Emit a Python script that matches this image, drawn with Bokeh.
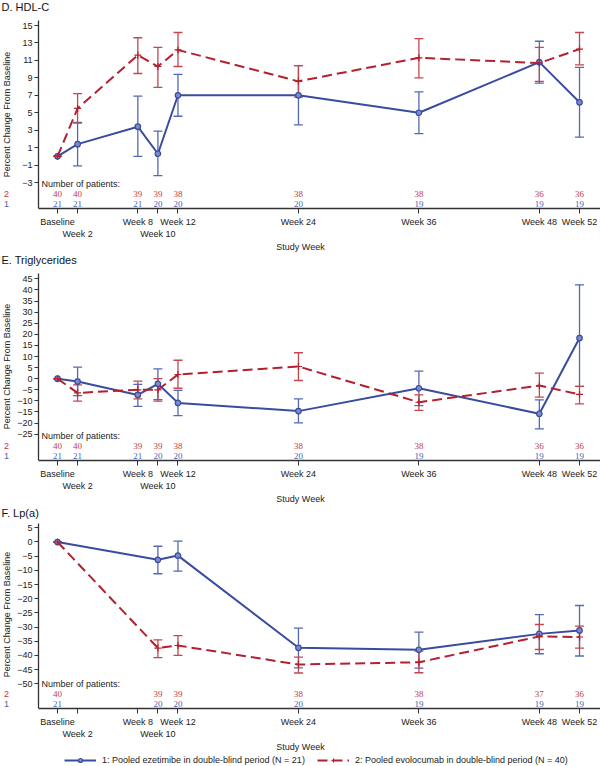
import math
from bokeh.plotting import figure
from bokeh.models import (Range1d, FixedTicker, Label, LabelSet, ColumnDataSource,
                          Whisker, TeeHead, Legend, LegendItem)
from bokeh.layouts import column
from bokeh.embed import file_html
from bokeh.resources import INLINE

# ---------------- data ----------------
tick_weeks = [0, 2, 8, 10, 12, 24, 36, 48, 52]
tick_labels = ["Baseline", "\nWeek 2", "Week 8", "\nWeek 10", "Week 12",
               "Week 24", "Week 36", "Week 48", "Week 52"]

# D. HDL-C
hdl_weeks = [0, 2, 8, 10, 12, 24, 36, 48, 52]
hdl_eze = [0, 1.4, 3.4, 0.3, 7.0, 7.0, 5.0, 10.8, 6.2]
hdl_eze_lo = [0, -1.1, 0.0, -2.2, 4.6, 3.6, 2.6, 8.4, 2.2]
hdl_eze_hi = [0, 3.9, 6.9, 2.9, 9.4, 10.4, 7.4, 13.2, 10.2]
hdl_evo = [0, 5.5, 11.6, 10.3, 12.2, 8.6, 11.3, 10.7, 12.3]
hdl_evo_lo = [0, 3.8, 9.5, 7.9, 10.3, 6.8, 9.0, 8.6, 10.5]
hdl_evo_hi = [0, 7.2, 13.6, 12.5, 14.2, 10.4, 13.5, 12.5, 14.2]
hdl_n_eze = [21, 21, 21, 20, 20, 20, 19, 19, 19]
hdl_n_evo = [40, 40, 39, 39, 38, 38, 38, 36, 36]
hdl_yticks = [-3, -1, 1, 3, 5, 7, 9, 11, 13, 15]

# E. Triglycerides
tg_weeks = [0, 2, 8, 10, 12, 24, 36, 48, 52]
tg_eze = [0, -1.3, -7.3, -2.3, -10.9, -14.6, -4.3, -15.8, 18.3]
tg_eze_lo = [0, -7.6, -12.5, -9.4, -16.6, -19.9, -12.1, -22.6, -3.5]
tg_eze_hi = [0, 5.2, -2.6, 4.4, -5.3, -9.1, 3.4, -9.5, 42.3]
tg_evo = [0, -6.4, -5.0, -5.0, 1.9, 5.5, -10.6, -3.1, -7.1]
tg_evo_lo = [0, -10.1, -9.1, -10.1, -4.3, -0.8, -14.3, -8.3, -11.3]
tg_evo_hi = [0, -2.8, -1.1, 0.0, 8.3, 11.7, -7.3, 2.5, -3.5]
tg_n_eze = [21, 21, 21, 20, 20, 20, 19, 19, 19]
tg_n_evo = [40, 40, 39, 39, 38, 38, 38, 36, 36]
tg_yticks = [-25, -20, -15, -10, -5, 0, 5, 10, 15, 20, 25, 30, 35, 40, 45]

# F. Lp(a)
lpa_weeks = [0, 10, 12, 24, 36, 48, 52]
lpa_eze = [0, -6.3, -4.8, -37.3, -38.0, -32.4, -31.2]
lpa_eze_lo = [0, -11.2, -10.3, -44.4, -44.5, -39.4, -40.2]
lpa_eze_hi = [0, -1.5, 0.3, -30.4, -31.8, -25.6, -22.4]
lpa_evo = [0, -37.4, -36.5, -43.2, -42.4, -33.3, -33.5]
lpa_evo_lo = [0, -40.8, -40.0, -46.2, -46.1, -37.9, -37.4]
lpa_evo_hi = [0, -34.5, -33.0, -40.6, -38.5, -29.1, -29.7]
lpa_n_eze = [21, 20, 20, 20, 19, 19, 19]
lpa_n_evo = [40, 39, 39, 38, 38, 37, 36]
lpa_yticks = [-50, -45, -40, -35, -30, -25, -20, -15, -10, -5, 0, 5]

eze_label = "1: Pooled ezetimibe in double-blind period (N = 21)"
evo_label = "2: Pooled evolocumab in double-blind period (N = 40)"

# ---------------- style ----------------
FONT = "Liberation Sans"
BLUE = "#3a4c9f"
BLUE_BAR = "#5568b4"
BLUE_TXT = "#4a5fb0"
BLUE_FILL = "#7d8cc8"
RED = "#b3202e"
RED_BAR = "#c44650"
RED_TXT = "#c23a44"
INK = "#222222"
W = 600
X0, X1 = -5.68, 54.09      # visible week range across the full width
YAXIS_AT = -1.89           # week position where the y axis is drawn


def add_series(p, src_e, src_v, with_bars=True):
    le = p.line("x", "y", source=src_e, line_color=BLUE, line_width=2)
    me = p.scatter("x", "y", source=src_e, marker="circle", size=5.5,
                   line_color=BLUE, fill_color=BLUE_FILL, line_width=1.2)
    lv = p.line("x", "y", source=src_v, line_color=RED, line_width=2, line_dash="10 5")
    mv = p.scatter("x", "y", source=src_v, marker="cross", size=7,
                   line_color=RED, line_width=1.2)
    return le, me, lv, mv


def make_panel(title, weeks, eze, eze_lo, eze_hi, evo, evo_lo, evo_hi,
               n_eze, n_evo, yticks, y0, y1, ytop, frame_h, title_y):
    p = figure(frame_width=W, frame_height=frame_h, output_backend="svg",
               toolbar_location=None,
               x_range=Range1d(X0, X1), y_range=Range1d(y0, y1),
               min_border_left=0, min_border_right=0,
               min_border_top=0, min_border_bottom=46)
    p.outline_line_color = None
    p.xgrid.grid_line_color = None
    p.ygrid.grid_line_color = None

    # axes
    p.xaxis.ticker = FixedTicker(ticks=tick_weeks)
    p.xaxis.major_label_overrides = {w: t for w, t in zip(tick_weeks, tick_labels)}
    p.xaxis.bounds = (YAXIS_AT, X1)
    p.xaxis.major_tick_out = 5
    p.xaxis.major_label_standoff = 3
    p.xaxis.axis_label = "Study Week"
    p.xaxis.axis_label_standoff = 0
    p.yaxis.ticker = FixedTicker(ticks=yticks)
    p.yaxis.fixed_location = YAXIS_AT
    p.yaxis.bounds = (y0, ytop)
    p.yaxis.major_tick_out = 4
    p.yaxis.major_label_standoff = 2
    for ax in (p.xaxis, p.yaxis):
        ax.minor_tick_line_color = None
        ax.major_tick_in = 0
        ax.axis_line_color = "#333333"
        ax.major_tick_line_color = "#333333"
        ax.axis_line_width = 1.3
        ax.major_label_text_font = FONT
        ax.major_label_text_font_size = "9px"
        ax.major_label_text_color = INK
        ax.axis_label_text_font = FONT
        ax.axis_label_text_font_size = "9px"
        ax.axis_label_text_font_style = "normal"
        ax.axis_label_text_color = INK

    eze_src = ColumnDataSource(dict(x=weeks, y=eze, lo=eze_lo, hi=eze_hi))
    evo_src = ColumnDataSource(dict(x=weeks, y=evo, lo=evo_lo, hi=evo_hi))
    add_series(p, eze_src, evo_src)

    for src, col in ((eze_src, BLUE_BAR), (evo_src, RED_BAR)):
        p.add_layout(Whisker(source=src, base="x", upper="hi", lower="lo",
                             line_color=col, line_width=1.3,
                             upper_head=TeeHead(size=9, line_color=col, line_width=1.3),
                             lower_head=TeeHead(size=9, line_color=col, line_width=1.3)))

    # title and y label
    p.add_layout(Label(x=1, y=title_y, x_units="screen", y_units="screen",
                       text=title, text_font=FONT, text_font_size="11px",
                       text_color="#111111", text_baseline="middle", text_align="left"))
    p.add_layout(Label(x=6, y=94, x_units="screen", y_units="screen",
                       text="Percent Change From Baseline", angle=math.pi / 2,
                       text_font=FONT, text_font_size="9px", text_color=INK,
                       text_align="center", text_baseline="middle"))

    # number of patients
    p.add_layout(Label(x=41, y=24.5, x_units="screen", y_units="screen",
                       text="Number of patients:", text_font=FONT, text_font_size="9px",
                       text_color=INK, text_baseline="middle", text_align="left"))
    p.add_layout(Label(x=6, y=14.5, x_units="screen", y_units="screen", text="2",
                       text_font=FONT, text_font_size="9px", text_color=RED_TXT,
                       text_baseline="middle", text_align="center"))
    p.add_layout(Label(x=6, y=4.5, x_units="screen", y_units="screen", text="1",
                       text_font=FONT, text_font_size="9px", text_color=BLUE_TXT,
                       text_baseline="middle", text_align="center"))
    n_src = ColumnDataSource(dict(x=weeks, ne=[str(v) for v in n_eze],
                                  nv=[str(v) for v in n_evo]))
    p.add_layout(LabelSet(x="x", y=14.5, y_units="screen", text="nv", source=n_src,
                          text_font=FONT, text_font_size="9px", text_color=RED_TXT,
                          text_align="center", text_baseline="middle"))
    p.add_layout(LabelSet(x="x", y=4.5, y_units="screen", text="ne", source=n_src,
                          text_font=FONT, text_font_size="9px", text_color=BLUE_TXT,
                          text_align="center", text_baseline="middle"))
    return p


pD = make_panel("D. HDL-C", hdl_weeks, hdl_eze, hdl_eze_lo, hdl_eze_hi,
                hdl_evo, hdl_evo_lo, hdl_evo_hi, hdl_n_eze, hdl_n_evo,
                hdl_yticks, -5.98, 17.87, 15.57, 208, 202)
pE = make_panel("E. Triglycerides", tg_weeks, tg_eze, tg_eze_lo, tg_eze_hi,
                tg_evo, tg_evo_lo, tg_evo_hi, tg_n_eze, tg_n_evo,
                tg_yticks, -36.85, 55.95, 47.39, 206, 201)
pF = make_panel("F. Lp(a)", lpa_weeks, lpa_eze, lpa_eze_lo, lpa_eze_hi,
                lpa_evo, lpa_evo_lo, lpa_evo_hi, lpa_n_eze, lpa_n_evo,
                lpa_yticks, -58.71, 12.51, 6.52, 202, 196)

# legend strip: series styles (first point of each series, kept outside the strip's view)
pL = figure(frame_width=W, frame_height=11, output_backend="svg", toolbar_location=None,
            x_range=Range1d(1000, 1001), y_range=Range1d(1000, 1001),
            min_border_left=0, min_border_right=0, min_border_top=0, min_border_bottom=0,
            x_axis_type=None, y_axis_type=None)
pL.outline_line_color = None
pL.xgrid.grid_line_color = None
pL.ygrid.grid_line_color = None
leg_e = ColumnDataSource(dict(x=lpa_weeks[:1], y=lpa_eze[:1]))
leg_v = ColumnDataSource(dict(x=lpa_weeks[:1], y=lpa_evo[:1]))
l1, m1, l2, m2 = add_series(pL, leg_e, leg_v)
legend = Legend(items=[LegendItem(label=eze_label, renderers=[l1, m1]),
                       LegendItem(label=evo_label, renderers=[l2, m2])],
                orientation="horizontal", location=(64, 0),
                label_text_font=FONT, label_text_font_size="9px",
                label_text_color=INK, glyph_width=32, glyph_height=10,
                label_height=10, label_standoff=6, spacing=12,
                padding=0, margin=0, border_line_color=None,
                background_fill_alpha=0)
pL.add_layout(legend)

layout = column(pD, pE, pF, pL, spacing=0)
open("out.html", "w").write(file_html(layout, INLINE))
